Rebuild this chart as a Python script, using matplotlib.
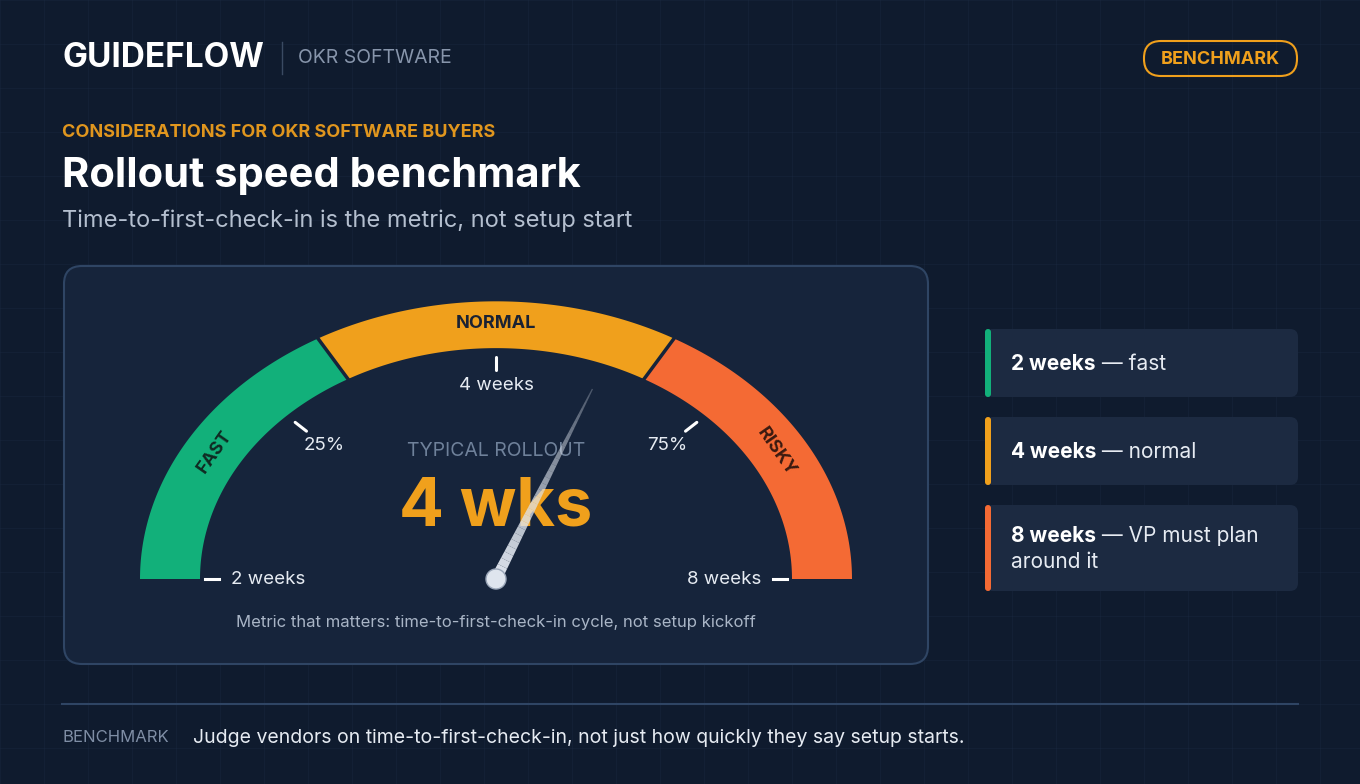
import numpy as np
import matplotlib
matplotlib.use("Agg")
import matplotlib.pyplot as plt
from matplotlib.patches import FancyBboxPatch, Polygon, Circle

# ---- data ----
segments = ["FAST", "NORMAL", "RISKY"]
seg_bounds = [0.0, 1/3, 2/3, 1.0]
seg_colors = ["#12b07a", "#f0a01c", "#f46a34"]
tick_fracs = [0.25, 0.5, 0.75]
tick_labels = ["25%", "4 weeks", "75%"]
end_labels = ["2 weeks", "8 weeks"]
needle_value = 0.62
cards_bold = ["2 weeks", "4 weeks", "8 weeks"]
cards_rest = [" — fast", " — normal", " — VP must plan\naround it"]

BG = "#0f1b2e"
fig = plt.figure(figsize=(13.6, 7.84), dpi=100, facecolor=BG)
ax = fig.add_axes([0, 0, 1, 1])
ax.set_xlim(0, 1360); ax.set_ylim(784, 0); ax.axis("off")
ax.set_facecolor(BG)
fam = ["Inter", "DejaVu Sans"]

# faint grid
for x in np.arange(0, 1360, 44):
    ax.plot([x, x], [0, 784], color="#1d2c44", lw=0.6, alpha=0.4, zorder=0)
for y in np.arange(0, 784, 44):
    ax.plot([0, 1360], [y, y], color="#1d2c44", lw=0.6, alpha=0.4, zorder=0)

# header
ax.text(62, 58, "GUIDEFLOW", color="white", fontsize=24, fontweight="bold", va="center", family=fam)
ax.plot([282, 282], [42, 74], color="#3a4a62", lw=1)
ax.text(298, 58, "OKR SOFTWARE", color="#8795ab", fontsize=14, va="center", family=fam)
ax.add_patch(FancyBboxPatch((1144, 41), 153, 35, boxstyle="round,pad=0,rounding_size=17",
                            fc="none", ec="#f0a01c", lw=1.5))
ax.text(1220, 59, "BENCHMARK", color="#f0a01c", fontsize=13, fontweight="bold", ha="center", va="center", family=fam)
ax.text(62, 132, "CONSIDERATIONS FOR OKR SOFTWARE BUYERS", color="#e0961e", fontsize=13,
        fontweight="bold", va="center", family=fam)
ax.text(62, 176, "Rollout speed benchmark", color="white", fontsize=30, fontweight="bold", va="center", family=fam)
ax.text(62, 221, "Time-to-first-check-in is the metric, not setup start", color="#b4bfcf", fontsize=17,
        va="center", family=fam)

# gauge card
ax.add_patch(FancyBboxPatch((64, 266), 864, 398, boxstyle="round,pad=0,rounding_size=18",
                            fc="#16243b", ec="#2f4564", lw=1.5, zorder=1))

cx, cy, R_out, R_in, sy = 496, 579, 356, 296, 0.78
def pt(frac, r):
    a = np.pi * (1 - frac)
    return cx + r*np.cos(a), cy - r*np.sin(a)*sy

for i, col in enumerate(seg_colors):
    t = np.linspace(seg_bounds[i], seg_bounds[i+1], 80)
    outer = [pt(f, R_out) for f in t]
    inner = [pt(f, R_in) for f in t[::-1]]
    ax.add_patch(Polygon(outer + inner, closed=True, fc=col, ec="none", zorder=2))
for b in seg_bounds[1:3]:
    p1, p2 = pt(b, R_in), pt(b, R_out)
    ax.plot([p1[0], p2[0]], [p1[1], p2[1]], color="#16243b", lw=2.5, zorder=3)

# segment labels
ax.text(*pt(0.5, 328), "NORMAL", color="#1a2233", fontsize=13, fontweight="bold", ha="center", va="center", family=fam, zorder=4)
ax.text(215, 452, "FAST", color="#0f2a22", fontsize=13, fontweight="bold", ha="center", va="center",
        rotation=55, family=fam, zorder=4)
ax.text(776, 452, "RISKY", color="#3a1a10", fontsize=13, fontweight="bold", ha="center", va="center",
        rotation=-55, family=fam, zorder=4)

# ticks
for f, lab in zip(tick_fracs, tick_labels):
    p1, p2 = pt(f, 268), pt(f, 284)
    ax.plot([p1[0], p2[0]], [p1[1], p2[1]], color="white", lw=2.2, zorder=4, solid_capstyle="round")
off = {0.25: (324, 445), 0.5: (496, 385), 0.75: (667, 445)}
for f, lab in zip(tick_fracs, tick_labels):
    ax.text(*off[f], lab, color="#e6ebf2", fontsize=13.5, ha="center", va="center", family=fam, zorder=4)
ax.plot([205, 219], [579, 579], color="white", lw=2.2, zorder=4)
ax.plot([773, 787], [579, 579], color="white", lw=2.2, zorder=4)
ax.text(231, 579, end_labels[0], color="#e6ebf2", fontsize=13.5, va="center", family=fam, zorder=4)
ax.text(761, 579, end_labels[1], color="#e6ebf2", fontsize=13.5, va="center", ha="right", family=fam, zorder=4)

ax.text(496, 451, "TYPICAL ROLLOUT", color="#6f819a", fontsize=14, ha="center", va="center", family=fam, zorder=4)
ax.text(496, 508, "4 wks", color="#f0a01c", fontsize=48, fontweight="bold", ha="center", va="center", family=fam, zorder=4)

# needle
tipx, tipy = pt(needle_value, 262)
dx, dy = tipx - cx, tipy - cy
L = np.hypot(dx, dy); nx, ny = -dy/L, dx/L
n = 30
for k in range(n):
    t0, t1 = k/n, (k+1)/n
    w0, w1 = 5*(1-t0)+0.6, 5*(1-t1)+0.6
    poly = [(cx+dx*t0+nx*w0, cy+dy*t0+ny*w0), (cx+dx*t1+nx*w1, cy+dy*t1+ny*w1),
            (cx+dx*t1-nx*w1, cy+dy*t1-ny*w1), (cx+dx*t0-nx*w0, cy+dy*t0-ny*w0)]
    ax.add_patch(Polygon(poly, fc="#dfe5ee", ec="none", alpha=1-0.75*t0, zorder=5))
ax.add_patch(Circle((cx, cy), 10, fc="#dfe5ee", ec="#9aa6b8", lw=1, zorder=6))

ax.text(496, 623, "Metric that matters: time-to-first-check-in cycle, not setup kickoff", color="#a9b5c6",
        fontsize=12, ha="center", va="center", family=fam, zorder=4)

# right cards
tops = [329, 417, 505]
hts = [68, 68, 86]
for i in range(3):
    y0, h = tops[i], hts[i]
    ax.add_patch(FancyBboxPatch((985, y0), 313, h, boxstyle="round,pad=0,rounding_size=8",
                                fc="#1c2a41", ec="none", zorder=1))
    ax.add_patch(FancyBboxPatch((985, y0), 6, h, boxstyle="round,pad=0,rounding_size=3",
                                fc=seg_colors[i], ec="none", zorder=2))
    ty = y0 + 35 if i < 2 else y0 + 31
    t = ax.text(1011, ty, cards_bold[i], color="white", fontsize=15, fontweight="bold", va="center", family=fam, zorder=3)
    ax.annotate(cards_rest[i].split("\n")[0], xycoords=t, xy=(1, 0.5), va="center", color="#e6ebf2",
                fontsize=15, family=fam, zorder=3)
    if "\n" in cards_rest[i]:
        ax.text(1011, ty + 26, cards_rest[i].split("\n")[1], color="#e6ebf2", fontsize=15, va="center", family=fam, zorder=3)

# footer
ax.plot([62, 1298], [704, 704], color="#2f4564", lw=1.5)
ax.text(62, 738, "BENCHMARK", color="#7f8ea5", fontsize=12, va="center", family=fam)
ax.text(193, 738, "Judge vendors on time-to-first-check-in, not just how quickly they say setup starts.",
        color="#e6ebf2", fontsize=14, va="center", family=fam)

fig.savefig("out.png", dpi=100, facecolor=BG)
